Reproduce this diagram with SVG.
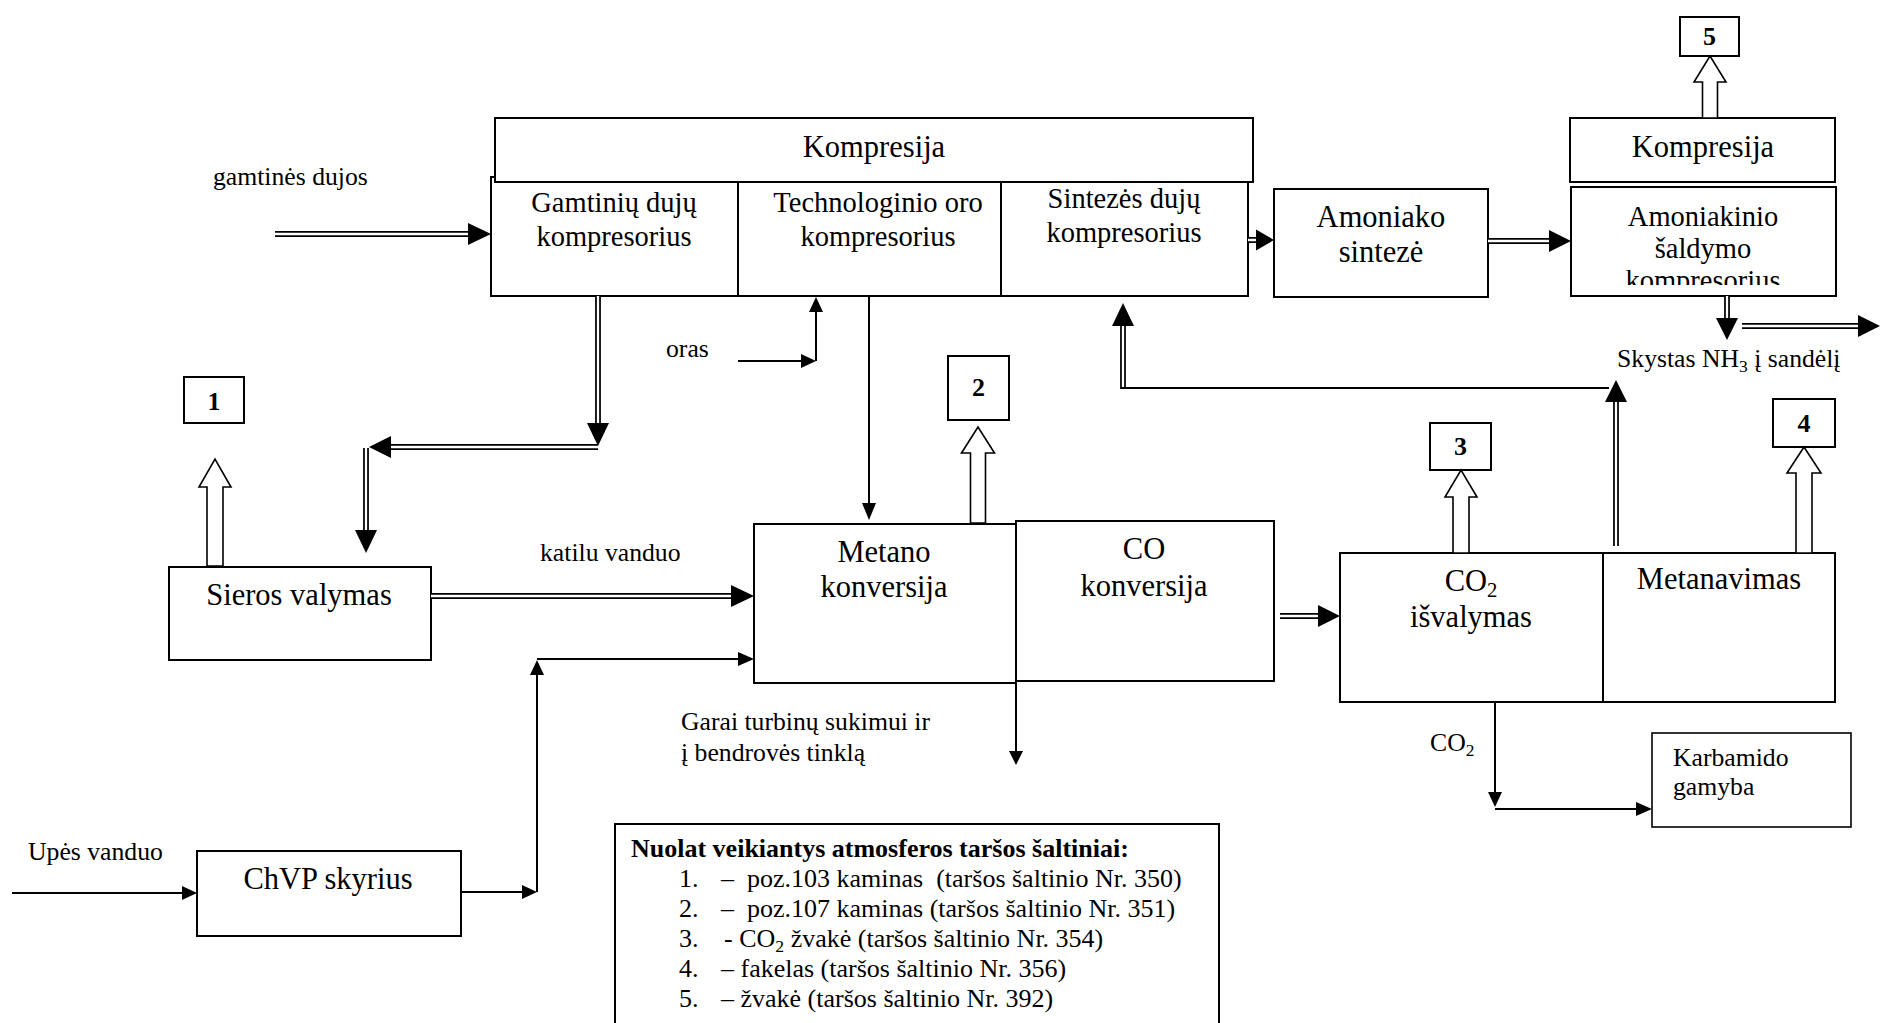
<svg xmlns="http://www.w3.org/2000/svg" width="1892" height="1023" viewBox="0 0 1892 1023">
<style>
text{font-family:"Liberation Serif","Times New Roman",serif;fill:#000}
.b{fill:#fff;stroke:#000;stroke-width:2}
.t31{font-size:30.5px;text-anchor:middle}
.t28{font-size:28.5px;text-anchor:middle}
.s{font-size:25.7px}
.num{font-size:26px;font-weight:bold;text-anchor:middle}
.ln{fill:none;stroke:#000;stroke-width:2}
.dO{fill:none;stroke:#000;stroke-width:5.8}
.dI{fill:none;stroke:#fff;stroke-width:2.3}
.hd{fill:#000}
.ho{fill:#fff;stroke:#000;stroke-width:1.6;stroke-linejoin:miter}
.sub{font-size:0.68em}
</style>
<defs>
<clipPath id="clipAm"><rect x="1572" y="188" width="262" height="97"/></clipPath>
</defs>
<rect width="1892" height="1023" fill="#fff"/>

<g id="compressors">
<rect class="b" x="491" y="177" width="757" height="119"/>
<line class="ln" x1="738" y1="182" x2="738" y2="296"/>
<line class="ln" x1="1001" y1="182" x2="1001" y2="296"/>
<text class="t28" x="614" y="212">Gamtinių dujų</text>
<text class="t28" x="614" y="246">kompresorius</text>
<text class="t28" x="878" y="212">Technologinio oro</text>
<text class="t28" x="878" y="246">kompresorius</text>
<text class="t28" x="1124" y="208">Sintezės dujų</text>
<text class="t28" x="1124" y="242">kompresorius</text>
</g>
<g id="kompresija1">
<rect class="b" x="495" y="118" width="758" height="64"/>
<text class="t31" x="874" y="157">Kompresija</text>
</g>
<g id="amoniako-sinteze">
<rect class="b" x="1274" y="189" width="214" height="108"/>
<text class="t31" x="1381" y="227">Amoniako</text>
<text class="t31" x="1381" y="262">sintezė</text>
</g>
<g id="kompresija2">
<rect class="b" x="1570" y="118" width="265" height="64"/>
<text class="t31" x="1703" y="157">Kompresija</text>
</g>
<g id="amoniakinio">
<rect class="b" x="1571" y="187" width="265" height="109"/>
<g clip-path="url(#clipAm)">
<text class="t28" x="1703" y="226">Amoniakinio</text>
<text class="t28" x="1703" y="258">šaldymo</text>
<text class="t28" x="1703" y="290">kompresorius</text>
</g>
</g>
<g id="src5">
<rect class="b" x="1680" y="17" width="59" height="39"/>
<text class="num" x="1709.5" y="45">5</text>
</g>
<g id="src1">
<rect class="b" x="184" y="377" width="60" height="46"/>
<text class="num" x="214" y="410">1</text>
</g>
<g id="src2">
<rect class="b" x="948" y="356" width="61" height="64"/>
<text class="num" x="978.5" y="396">2</text>
</g>
<g id="src3">
<rect class="b" x="1430" y="423" width="61" height="47"/>
<text class="num" x="1460.5" y="455">3</text>
</g>
<g id="src4">
<rect class="b" x="1773" y="399" width="62" height="48"/>
<text class="num" x="1804" y="432">4</text>
</g>
<g id="sieros">
<rect class="b" x="169" y="567" width="262" height="93"/>
<text class="t31" x="299" y="605">Sieros valymas</text>
</g>
<g id="metano">
<rect class="b" x="754" y="524" width="262" height="159"/>
<text class="t31" x="884" y="562">Metano</text>
<text class="t31" x="884" y="597">konversija</text>
</g>
<g id="co-konversija">
<rect class="b" x="1016" y="521" width="258" height="160"/>
<text class="t31" x="1144" y="559">CO</text>
<text class="t31" x="1144" y="596">konversija</text>
</g>
<g id="co2-isvalymas">
<rect class="b" x="1340" y="553" width="263" height="149"/>
<text class="t31" x="1471" y="591">CO<tspan class="sub" dy="6">2</tspan></text>
<text class="t31" x="1471" y="627">išvalymas</text>
</g>
<g id="metanavimas">
<rect class="b" x="1603" y="553" width="232" height="149"/>
<text class="t31" x="1719" y="589">Metanavimas</text>
</g>
<g id="karbamido">
<rect class="b" x="1652" y="733" width="199" height="94" style="stroke-width:1.6"/>
<text class="s" x="1673" y="766">Karbamido</text>
<text class="s" x="1673" y="795">gamyba</text>
</g>
<g id="chvp">
<rect class="b" x="197" y="851" width="264" height="85"/>
<text class="t31" x="328" y="889">ChVP skyrius</text>
</g>
<g id="legend">
<rect class="b" x="615" y="824" width="604" height="210"/>
<text x="631" y="857" style="font-size:26px;font-weight:bold">Nuolat veikiantys atmosferos taršos šaltiniai:</text>
<text x="679" y="887" style="font-size:26px" xml:space="preserve">1.<tspan x="721">–  poz.103 kaminas  (taršos šaltinio Nr. 350)</tspan></text>
<text x="679" y="917" style="font-size:26px" xml:space="preserve">2.<tspan x="721">–  poz.107 kaminas (taršos šaltinio Nr. 351)</tspan></text>
<text x="679" y="947" style="font-size:26px" xml:space="preserve">3.<tspan x="724">- CO</tspan><tspan class="sub" dy="5">2</tspan><tspan dy="-5"> žvakė (taršos šaltinio Nr. 354)</tspan></text>
<text x="679" y="977" style="font-size:26px" xml:space="preserve">4.<tspan x="721">– fakelas (taršos šaltinio Nr. 356)</tspan></text>
<text x="679" y="1007" style="font-size:26px" xml:space="preserve">5.<tspan x="721">– žvakė (taršos šaltinio Nr. 392)</tspan></text>
</g>

<g id="labels">
<text class="s" x="213" y="185">gamtinės dujos</text>
<text class="s" x="666" y="357">oras</text>
<text class="s" x="540" y="561">katilu vanduo</text>
<text class="s" x="681" y="730">Garai turbinų sukimui ir</text>
<text class="s" x="681" y="761">į bendrovės tinklą</text>
<text class="s" x="28" y="860">Upės vanduo</text>
<text class="s" x="1617" y="367">Skystas NH<tspan class="sub" dy="5">3</tspan><tspan dy="-5"> į sandėlį</tspan></text>
<text class="s" x="1430" y="751">CO<tspan class="sub" dy="5">2</tspan></text>
</g>

<g id="connectors">
<!-- double lines -->
<path class="dO" d="M275 234H470 M1248 240H1258 M1488 241H1552 M598 296V425 M598 447H389 M366 448V532 M431 596H733 M1280 616H1320 M1727 296V320 M1742 326H1860 M1616 546V400 M1123 389V324"/>
<path class="dI" d="M275 234H470 M1248 240H1258 M1488 241H1552 M598 296V425 M598 447H389 M366 448V532 M431 596H733 M1280 616H1320 M1727 296V320 M1742 326H1860 M1616 546V400 M1123 389V324"/>
<!-- big heads -->
<polygon class="hd" points="468,223 491,234 468,245"/>
<polygon class="hd" points="1256,229.5 1274,240 1256,250.5"/>
<polygon class="hd" points="1549,230 1571,241 1549,252"/>
<polygon class="hd" points="587,423 598,446 609,423"/>
<polygon class="hd" points="391,436 369,447 391,458"/>
<polygon class="hd" points="355,530 366,553 377,530"/>
<polygon class="hd" points="731,585 754,596 731,607"/>
<polygon class="hd" points="1318,605 1340,616 1318,627"/>
<polygon class="hd" points="1716,318 1727,340 1738,318"/>
<polygon class="hd" points="1858,315 1880,326 1858,337"/>
<polygon class="hd" points="1605,402 1616,380 1627,402"/>
<polygon class="hd" points="1112,326 1123,303 1134,326"/>
<!-- thin lines -->
<path class="ln" d="M1121 388H1609 M738 361H803 M816 361V310 M869 296V505 M12 893H184 M461 892H524 M537 892V673 M537 659H740 M1016 683V752 M1495 702V794 M1495 809H1638"/>
<polygon class="hd" points="801,354 816,361 801,368"/>
<polygon class="hd" points="809,312 816,297 823,312"/>
<polygon class="hd" points="862,503 869,520 876,503"/>
<polygon class="hd" points="182,886 197,893 182,900"/>
<polygon class="hd" points="522,885 537,892 522,899"/>
<polygon class="hd" points="530,675 537,660 544,675"/>
<polygon class="hd" points="738,652 754,659 738,666"/>
<polygon class="hd" points="1009,751 1016,765 1023,751"/>
<polygon class="hd" points="1488,792 1495,807 1502,792"/>
<polygon class="hd" points="1636,802 1652,809 1636,816"/>
<!-- hollow emission arrows -->
<polygon class="ho" points="207,566 207,487 199,487 215,459 231,487 223,487 223,566"/>
<polygon class="ho" points="970.5,523 970.5,453 961.5,453 978,427 994.5,453 985.5,453 985.5,523"/>
<polygon class="ho" points="1453,553 1453,497 1445,497 1461,470 1477,497 1469,497 1469,553"/>
<polygon class="ho" points="1796,553 1796,473 1787,473 1804,447 1821,473 1812,473 1812,553"/>
<polygon class="ho" points="1702.5,118 1702.5,82 1694,82 1710,56 1726,82 1717.5,82 1717.5,118"/>
</g>
</svg>
